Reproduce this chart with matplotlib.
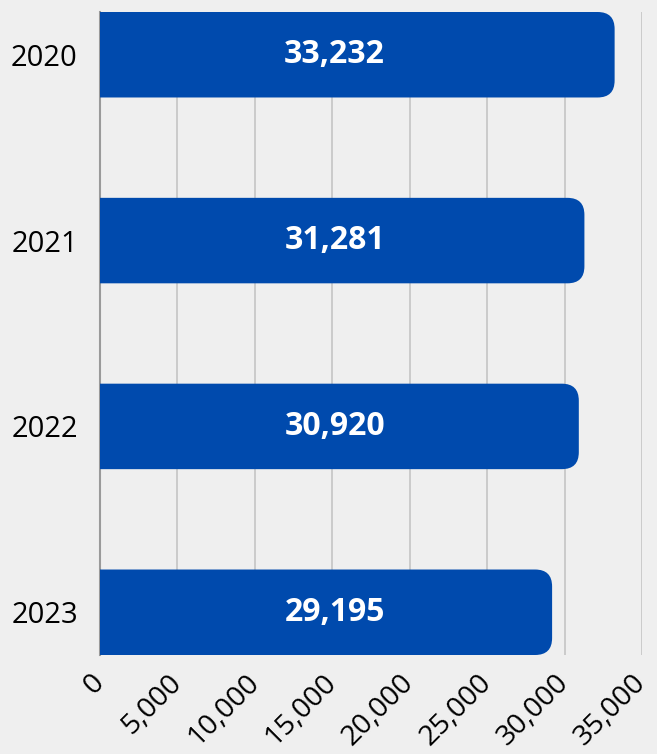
import matplotlib.pyplot as plt
from matplotlib.patches import FancyBboxPatch

# data
years = ['2020', '2021', '2022', '2023']
values = [33232, 31281, 30920, 29195]
xticks = [0, 5000, 10000, 15000, 20000, 25000, 30000, 35000]
label_x = 15150

BG = '#efefef'
BAR = '#004aad'
plt.rcParams['font.family'] = ['Open Sans', 'DejaVu Sans']

fig = plt.figure(figsize=(6.57, 7.54), dpi=100, facecolor=BG)
ax = fig.add_axes([100 / 657, 1 - 655 / 754, 542 / 657, 643 / 754])
ax.set_facecolor(BG)

h = 0.46
ax.set_xlim(0, 35000)
ax.set_ylim(len(years) - 1 + h / 2, -h / 2)

# rounded right corners: radius in pixels converted to data units
px_x = 542 / 35000
px_y = 643 / (len(years) - 1 + h)
r_px = 17
rx = r_px / px_x
ry = r_px / px_y
for i, v in enumerate(values):
    # start left of zero so the left rounded corners get clipped away
    box = FancyBboxPatch((-3 * rx, i - h / 2), v + 3 * rx, h,
                         boxstyle='round,pad=0,rounding_size=%f' % rx,
                         mutation_aspect=ry / rx,
                         facecolor=BAR, edgecolor='none', zorder=3)
    ax.add_patch(box)
    ax.text(label_x, i, f'{v:,}', color='white', fontsize=23, fontweight='bold',
            ha='center', va='center', zorder=4)

ax.set_yticks(range(len(years)))
ax.set_yticklabels(years, fontsize=21, fontweight='medium')
ax.set_xticks(xticks)
ax.set_xticklabels([f'{t:,}' for t in xticks], fontsize=20.5, fontweight='medium',
                   rotation=45, ha='right', va='center', rotation_mode='anchor')
ax.tick_params(axis='both', length=0)
ax.tick_params(axis='x', pad=17)
ax.tick_params(axis='y', pad=16)

ax.grid(axis='x', color='#c4c4c4', linewidth=1.2, zorder=0)
ax.set_axisbelow(True)
for s in ['top', 'right', 'bottom']:
    ax.spines[s].set_visible(False)
ax.spines['left'].set_color('#9a9a9a')
ax.spines['left'].set_linewidth(1.5)
ax.spines['left'].set_zorder(1)

fig.savefig('out.png', dpi=100, facecolor=BG)
